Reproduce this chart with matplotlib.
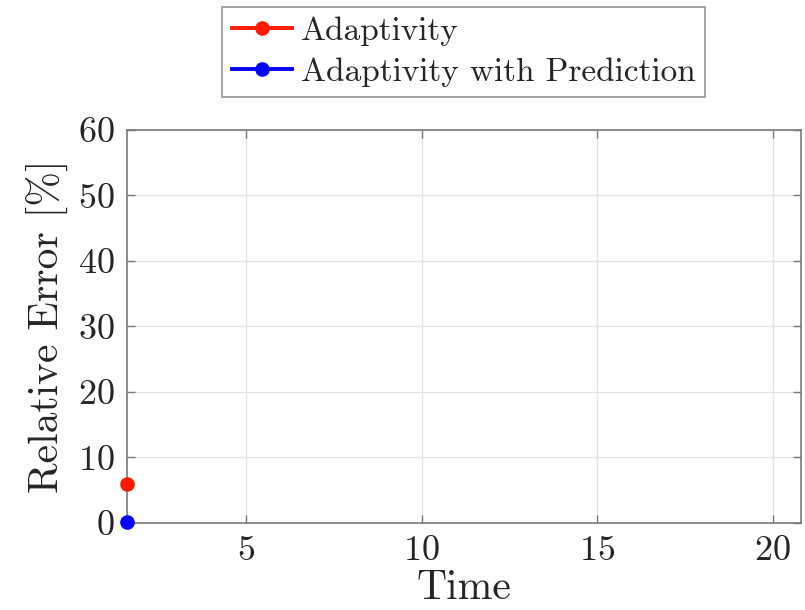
import matplotlib
matplotlib.use("Agg")
import matplotlib.pyplot as plt

plt.rcParams["font.family"] = "serif"
plt.rcParams["font.serif"] = ["cmr10", "DejaVu Serif"]
plt.rcParams["mathtext.fontset"] = "cm"
plt.rcParams["axes.formatter.use_mathtext"] = True

# Relative error at the first time step for each strategy
time = [1.6]
err_adaptivity = [5.9]
err_prediction = [0.05]

series_labels = ["Adaptivity", "Adaptivity with Prediction"]
xticks = [5, 10, 15, 20]
yticks = [0, 10, 20, 30, 40, 50, 60]

fig = plt.figure(figsize=(8.05, 6.1), dpi=100)
ax = fig.add_axes([0.1574, 0.1431, 0.8373, 0.6438])

ax.plot(time, err_adaptivity, "-o", color="#ff1a00", lw=2.8, ms=9.5,
        label=series_labels[0], clip_on=False, zorder=5)
ax.plot(time, err_prediction, "-o", color="#0000ff", lw=2.8, ms=9.5,
        label=series_labels[1], clip_on=False, zorder=5)

ax.set_xlim(1.6, 20.8)
ax.set_ylim(0, 60)
ax.set_xticks(xticks)
ax.set_yticks(yticks)
ax.grid(True, color="#e3e3e3", lw=0.9)
ax.set_axisbelow(True)

axis_gray = "#7a7a7a"
for sp in ax.spines.values():
    sp.set_color(axis_gray)
    sp.set_linewidth(1.2)
ax.tick_params(direction="in", length=6, width=1.0, color=axis_gray,
               labelsize=26, labelcolor="#262626", top=True, right=True,
               labeltop=False, labelright=False)
ax.tick_params(axis="x", pad=9)
ax.tick_params(axis="y", pad=9)

ax.set_xlabel("Time", fontsize=30, color="#262626", labelpad=2)
ax.set_ylabel("Relative Error [%]", fontsize=30, color="#262626", labelpad=7)

leg = ax.legend(loc="lower center", bbox_to_anchor=(0.5, 1.084), fontsize=24,
                frameon=True, fancybox=False, edgecolor="#7a7a7a",
                handlelength=1.8, handletextpad=0.25, borderpad=0.3,
                labelspacing=0.34, borderaxespad=0)
leg.get_frame().set_linewidth(1.2)
for t in leg.get_texts():
    t.set_color("#262626")

fig.savefig("out.png", dpi=100, facecolor="white")
